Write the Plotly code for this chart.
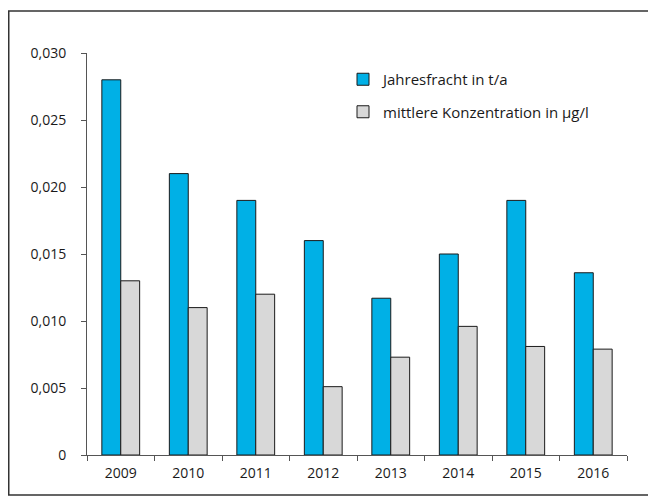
import plotly.graph_objects as go

years = ['2009', '2010', '2011', '2012', '2013', '2014', '2015', '2016']
jahresfracht = [0.028, 0.021, 0.019, 0.016, 0.0117, 0.015, 0.019, 0.0136]
konzentration = [0.013, 0.011, 0.012, 0.0051, 0.0073, 0.0096, 0.0081, 0.0079]
yTickVals = [0, 0.005, 0.010, 0.015, 0.020, 0.025, 0.030]
yTickText = ['0', '0,005', '0,010', '0,015', '0,020', '0,025', '0,030']

class layoutConfig:
    blue = '#00b0e6'
    grey = '#d8d8d8'
    axisColor = '#555555'
    graphFont = dict(family="Open Sans, sans-serif", size=14, color='#1a1a1a')
    legendFont = dict(family="Open Sans, sans-serif", size=15, color='#1a1a1a')

# figure size (page has an 8px body margin, so keep the figure inside the window)
figW, figH = 648, 494
# plot area in figure pixels
left, right, top, bottom = 79, 619, 45, 447
plotW = right - left
plotH = bottom - top

def px2paperX(px):
    return (px - left) / plotW

def px2paperY(py):
    return (bottom - py) / plotH

fig = go.Figure()
fig.add_trace(go.Bar(
    x=years, y=jahresfracht, name='Jahresfracht in t/a',
    marker=dict(color=layoutConfig.blue, line=dict(color='#1a1a1a', width=1)),
    legendgroup='a'
))
fig.add_trace(go.Bar(
    x=years, y=konzentration, name='mittlere Konzentration in µg/l',
    marker=dict(color=layoutConfig.grey, line=dict(color='#1a1a1a', width=1)),
    legendgroup='b'
))

fig.update_layout(
    width=figW, height=figH,
    margin=dict(l=left, r=figW - right, t=top, b=figH - bottom, pad=0),
    paper_bgcolor='white', plot_bgcolor='white',
    font=layoutConfig.graphFont,
    barmode='group', bargap=0.44, bargroupgap=0,
    showlegend=True,
    legend=dict(x=px2paperX(335), y=px2paperY(55), xanchor='left', yanchor='top',
                bgcolor='rgba(0,0,0,0)', tracegroupgap=10,
                font=layoutConfig.legendFont),
    # outer frame around the whole chart
    shapes=[dict(type='rect', xref='paper', yref='paper',
                 x0=px2paperX(0.75), x1=px2paperX(642),
                 y0=px2paperY(487), y1=px2paperY(3),
                 line=dict(color='#333333', width=1.5))]
)

fig.update_xaxes(
    showline=True, linecolor=layoutConfig.axisColor, linewidth=1,
    ticks='outside', tickson='boundaries', ticklen=5, tickcolor=layoutConfig.axisColor,
    showgrid=False, ticklabelstandoff=5
)
fig.update_yaxes(
    range=[0, 0.030], tickvals=yTickVals, ticktext=yTickText,
    showline=True, linecolor=layoutConfig.axisColor, linewidth=1,
    ticks='outside', ticklen=5, tickcolor=layoutConfig.axisColor,
    showgrid=False, zeroline=False, ticklabelstandoff=12
)

fig.write_html("out.html")
